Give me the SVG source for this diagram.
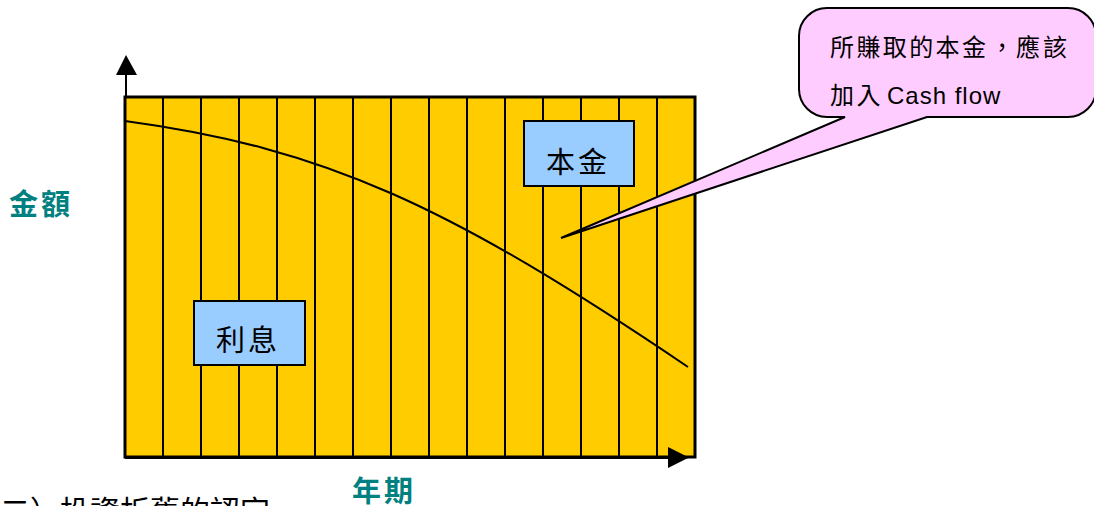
<svg xmlns="http://www.w3.org/2000/svg" width="1094" height="506" viewBox="0 0 1094 506">
<style>
.cjk{font-family:"Liberation Sans","Noto Sans CJK TC",sans-serif;}
.lbl{font-size:29px;fill:#000;}
.axis-lbl{font-size:29px;font-weight:bold;fill:#008080;}
.box{fill:#99CCFF;stroke:#000;stroke-width:2;}
.grid{stroke:#000;stroke-width:2;}
</style>
<rect x="0" y="0" width="1094" height="506" fill="#fff"/>
<g id="chart">
<rect x="125" y="97" width="570" height="360" fill="#FFCC00"/>
<g class="grid">
<line x1="163" y1="97" x2="163" y2="457"/><line x1="201" y1="97" x2="201" y2="457"/>
<line x1="239" y1="97" x2="239" y2="457"/><line x1="277" y1="97" x2="277" y2="457"/>
<line x1="315" y1="97" x2="315" y2="457"/><line x1="353" y1="97" x2="353" y2="457"/>
<line x1="391" y1="97" x2="391" y2="457"/><line x1="429" y1="97" x2="429" y2="457"/>
<line x1="467" y1="97" x2="467" y2="457"/><line x1="505" y1="97" x2="505" y2="457"/>
<line x1="543" y1="97" x2="543" y2="457"/><line x1="581" y1="97" x2="581" y2="457"/>
<line x1="619" y1="97" x2="619" y2="457"/><line x1="657" y1="97" x2="657" y2="457"/>
</g>
<rect x="125" y="97" width="570" height="360" fill="none" stroke="#000" stroke-width="3"/>
<path d="M125,121 C325,148 450,206 688,367" fill="none" stroke="#000" stroke-width="2"/>
</g>
<g id="axes">
<line x1="126" y1="97" x2="126" y2="72" stroke="#000" stroke-width="2"/>
<polygon points="126,55 116,75 137,75" fill="#000"/>
<line x1="125" y1="458" x2="672" y2="458" stroke="#000" stroke-width="2"/>
<polygon points="668,447 668,468 689,457.5" fill="#000"/>
</g>
<g id="principal">
<rect class="box" x="524" y="121" width="110" height="65"/>
<text class="cjk lbl" x="546 578" y="173">本金</text>
</g>
<g id="interest">
<rect class="box" x="194" y="301" width="111" height="64"/>
<text class="cjk lbl" x="216 248" y="351">利息</text>
</g>
<g id="callout">
<path d="M827,8 H1068 A28,28 0 0 1 1096,36 V89 A28,28 0 0 1 1068,117 H927 L561,238 L845,117 H827 A28,28 0 0 1 799,89 V36 A28,28 0 0 1 827,8 Z" fill="#FFCCFF" stroke="#000" stroke-width="2" stroke-linejoin="miter"/>
<text class="cjk" font-size="24" x="830 856.4 882.8 909.2 935.6 962 990 1016 1043" y="56">所賺取的本金，應該</text>
<text class="cjk" font-size="24" y="104"><tspan x="830 856.4">加入</tspan><tspan x="887" letter-spacing="1">Cash flow</tspan></text>
</g>
<g id="labels">
<text class="cjk axis-lbl" x="9 41" y="215">金額</text>
<text class="cjk axis-lbl" x="352 384" y="502">年期</text>
<text class="cjk" font-size="30" x="0" y="522">二）投資折舊的認定</text>
</g>
</svg>
